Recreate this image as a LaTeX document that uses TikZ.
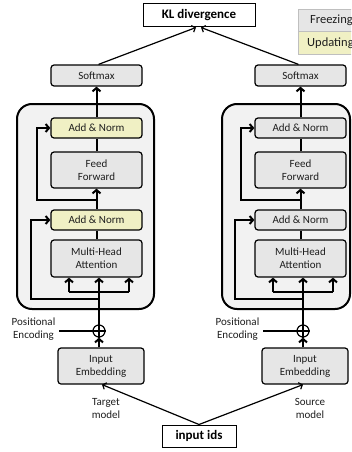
\documentclass[tikz,border=0pt]{standalone}
\usepackage{fontspec}
\setmainfont{Carlito}
\usetikzlibrary{arrows.meta}
\definecolor{boxgray}{HTML}{E6E6E6}
\definecolor{boxyel}{HTML}{F0F0C4}
\definecolor{encgray}{HTML}{F2F2F2}
\definecolor{legline}{HTML}{BFBFBF}
\definecolor{txt}{HTML}{1E1E1E}
\begin{document}
\begin{tikzpicture}[x=1pt,y=-1pt,
  blk/.style={draw=black, line width=1.2pt, rounded corners=3pt, fill=boxgray,
    minimum width=91pt, inner sep=0pt, align=center,
    font=\fontsize{11}{13}\selectfont, text=txt},
  yel/.style={blk, fill=boxyel},
  plain/.style={draw=black, line width=1pt, fill=white, inner sep=0pt,
    font=\bfseries\fontsize{13}{15}\selectfont},
  enc/.style={draw=black, line width=2pt, fill=encgray, rounded corners=15pt},
  flow/.style={line width=2pt},
  flowarr/.style={line width=2pt, -{Straight Barb[length=3.5pt,width=8pt]}},
  thinarr/.style={line width=1.2pt, -{Straight Barb[length=3pt,width=7pt]}},
  lbl/.style={align=center, font=\fontsize{11}{13}\selectfont, text=txt, inner sep=0pt},
  legt/.style={font=\fontsize{12.5}{14}\selectfont, text=txt, inner sep=0pt, anchor=west},
  leg/.style={draw=legline, line width=0.8pt, minimum width=72pt, minimum height=22.5pt,
    inner sep=0pt, anchor=north west},
  plus/.style={draw=black, circle, line width=1.2pt, minimum size=12pt, inner sep=0pt, fill=white}
]
\useasboundingbox (0,0) rectangle (351,452);
\clip (0,0) rectangle (351,452);

% legend
\node[leg, fill=boxgray] (frz) at (298,9) {};
\node[leg, fill=boxyel] (upd) at (298,31.5) {};
\node[legt] (frzt) at (310,20.5) {Freezing};
\node[legt] (updt) at (307,43) {Updating};

% KL and input ids
\node[plain, minimum width=112pt, minimum height=23pt] (kl) at (199,15.5) {KL divergence};
\node[plain, minimum width=74pt, minimum height=22pt] (ids) at (199,436) {input ids};

% encoders
\draw[enc] (17,104) rectangle (154,309);
\draw[enc] (222,104) rectangle (350,309);

\foreach \s/\dx/\an in {L/0/yel, R/204/blk} {
  \node[blk, minimum height=21pt] (sm\s) at (96.5+\dx,75.5) {Softmax};
  \node[\an, minimum height=20pt] (anA\s) at (96.5+\dx,128) {Add \& Norm};
  \node[blk, minimum height=36pt] (ff\s) at (96.5+\dx,170) {Feed\\Forward};
  \node[\an, minimum height=20pt] (anB\s) at (96.5+\dx,220) {Add \& Norm};
  \node[blk, minimum height=37pt] (mha\s) at (96.5+\dx,258.5) {Multi-Head\\Attention};
  \node[plus] (pe\s) at (99+\dx,331) {};
  \node[blk, minimum width=86pt, minimum height=36pt] (emb\s) at (101+\dx,366) {Input\\Embedding};
  \node[lbl] (pel\s) at (33.5+\dx,329.5) {Positional\\Encoding};
  \coordinate (pes\s) at (59+\dx,331);
  % junctions
  \coordinate (jA\s) at (96.5+\dx,200);
  \coordinate (cA\s) at (37+\dx,200);
  \coordinate (jB\s) at (99+\dx,299);
  \coordinate (cB\s) at (31+\dx,299);
  \coordinate (bar\s) at (99+\dx,292);
  \coordinate (barl\s) at (69+\dx,292);
  \coordinate (barr\s) at (129+\dx,292);
  % main flow
  \draw[flowarr] (anA\s.north) -- (sm\s.south);
  \draw[flow] (ff\s.north) -- (anA\s.south);
  \draw[flowarr] (anB\s.north) -- (ff\s.south);
  \draw[flow] (mha\s.north) -- (anB\s.south);
  \draw[flowarr] (jA\s) -- (cA\s) |- (anA\s.west);
  \draw[flowarr] (jB\s) -- (cB\s) |- (anB\s.west);
  \draw[flow] (pe\s.north) -- (bar\s);
  \draw[flow] (barl\s) -- (barr\s);
  \draw[flowarr] (bar\s) -- (bar\s |- mha\s.south);
  \draw[flowarr] (barl\s) -- (barl\s |- mha\s.south);
  \draw[flowarr] (barr\s) -- (barr\s |- mha\s.south);
  \draw[flowarr] (emb\s.north -| pe\s) -- (pe\s.south);
  \draw[line width=1.4pt] (pes\s) -- (pe\s.west);
  \draw[line width=1.2pt] (pe\s.north) -- (pe\s.south) (pe\s.west) -- (pe\s.east);
}

% top arrows
\draw[thinarr] (smL.north) ++(2,0) -- ([xshift=-3pt]kl.south);
\draw[thinarr] (smR.north) ++(-2,0) -- ([xshift=2pt]kl.south);

% bottom arrows
\draw[thinarr] (ids.north) -- ([xshift=1pt]embL.south);
\draw[thinarr] (ids.north) -- ([xshift=-2pt]embR.south);

\node[lbl] (tgt) at (106,408.5) {Target\\model};
\node[lbl] (src) at (310,408.5) {Source\\model};
\end{tikzpicture}
\end{document}
